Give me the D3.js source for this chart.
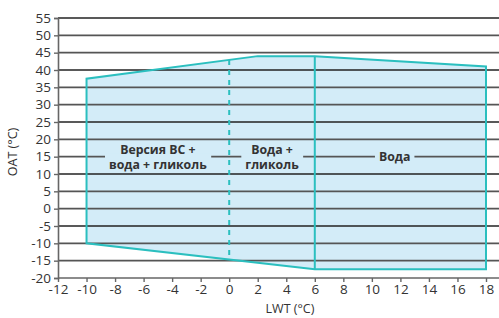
<!DOCTYPE html>
<html>
<head>
<meta charset="utf-8">
<script src="https://cdn.jsdelivr.net/npm/d3@7"></script>
<style>
  body { margin: 0; background: #fff; }
  svg { display: block; font-family: "Open Sans", sans-serif; }
</style>
</head>
<body>
<svg id="canvas" width="499" height="318"></svg>
<script>
// operating envelope (LWT, OAT)
let envelopeLWT = [-10, -10, 2, 6, 18, 18, 6, -10]
let envelopeOAT = [-10, 37.5, 44, 44, 41, -17.5, -17.5, -10]

// split lines
let glycolSplit = 0   // dashed
let waterSplit = 6    // solid

let xTicks = d3.range(-12, 19, 2)
let yTicks = d3.range(-20, 56, 5)

let zoneNames = [['Версия ВС +', 'вода + гликоль'], ['Вода +', 'гликоль'], ['Вода']]
let zoneLWT = [-5, 3, 11.6]
let zoneOAT = 15

let fillColor = '#d3ecf8'
let lineColor = '#2bbfbf'

let svg = d3.select('#canvas')

let x = d3.scaleLinear().domain([-12, 18]).range([58, 486])
let y = d3.scaleLinear().domain([-20, 55]).range([278, 18])
let rightEdge = 499

let points = envelopeLWT.map((v, i) => [x(v), y(envelopeOAT[i])])

// fill
svg.append('polygon')
   .attr('points', points.map(p => p.join(',')).join(' '))
   .attr('fill', fillColor)

// grid lines
svg.selectAll('.grid')
   .data(yTicks.filter(t => t > -20))
   .enter()
   .append('line')
   .attr('x1', x(-12))
   .attr('x2', rightEdge)
   .attr('y1', (t) => y(t))
   .attr('y2', (t) => y(t))
   .attr('stroke', (t, i) => (i % 3 === 2 ? '#222' : '#555'))
   .attr('stroke-width', 1.6)

// interpolate top/bottom boundaries at a given LWT
let topAt = (v) => {
    let tx = envelopeLWT.slice(1, 5), ty = envelopeOAT.slice(1, 5)
    return d3.scaleLinear().domain(tx).range(ty)(v)
}
let bottomAt = (v) => {
    return d3.scaleLinear().domain([-10, 6]).range([-10, -17.5]).clamp(true)(v)
}

// dashed split
svg.append('line')
   .attr('x1', x(glycolSplit)).attr('x2', x(glycolSplit))
   .attr('y1', y(topAt(glycolSplit))).attr('y2', y(bottomAt(glycolSplit)))
   .attr('stroke', lineColor)
   .attr('stroke-width', 2)
   .attr('stroke-dasharray', '5,5')

// solid split
svg.append('line')
   .attr('x1', x(waterSplit)).attr('x2', x(waterSplit))
   .attr('y1', y(topAt(waterSplit))).attr('y2', y(bottomAt(waterSplit)))
   .attr('stroke', lineColor)
   .attr('stroke-width', 2)

// zone labels with a patch hiding the grid line behind them
zoneNames.forEach((lines, i) => {
    let g = svg.append('g')
    let cx = x(zoneLWT[i])
    let cy = y(zoneOAT)
    let lh = 15
    let t = g.append('text')
             .attr('text-anchor', 'middle')
             .attr('font-size', 12.3)
             .attr('font-weight', 'bold')
             .attr('fill', '#333')
    lines.forEach((s, j) => {
        t.append('tspan')
         .attr('x', cx)
         .attr('y', cy + (j - (lines.length - 1) / 2) * lh + 4.5)
         .text(s)
    })
    let bb = t.node().getBBox()
    g.insert('rect', 'text')
     .attr('x', bb.x - 4)
     .attr('y', cy - 3)
     .attr('width', bb.width + 8)
     .attr('height', 6)
     .attr('fill', fillColor)
})

// outline
svg.append('polygon')
   .attr('points', points.map(p => p.join(',')).join(' '))
   .attr('fill', 'none')
   .attr('stroke', lineColor)
   .attr('stroke-width', 2)

// axes
let xAxis = svg.append('g')
               .attr('transform', 'translate(0,' + y(-20) + ')')
               .call(d3.axisBottom(x).tickValues(xTicks).tickSize(4).tickPadding(2))
xAxis.select('.domain').remove()
xAxis.append('line')
     .attr('x1', x(-12)).attr('x2', rightEdge)
     .attr('stroke', '#666').attr('stroke-width', 1.6)

let yAxis = svg.append('g')
               .attr('transform', 'translate(' + x(-12) + ',0)')
               .call(d3.axisLeft(y).tickValues(yTicks).tickSize(4).tickPadding(3))
yAxis.select('.domain').attr('stroke', '#666').attr('stroke-width', 1.6)

svg.selectAll('.tick line').attr('stroke', '#666').attr('stroke-width', 1.4)
svg.selectAll('.tick text')
   .attr('font-size', 13.5)
   .attr('fill', '#333')
   .attr('font-family', '"Open Sans", sans-serif')
   .text((d) => (d < 0 ? '-' + Math.abs(d) : d))

// axis titles
svg.append('text')
   .attr('x', 290).attr('y', 313)
   .attr('text-anchor', 'middle')
   .attr('font-size', 12.5)
   .attr('fill', '#333')
   .text('LWT (°C)')

svg.append('text')
   .attr('transform', 'translate(17,152) rotate(-90)')
   .attr('text-anchor', 'middle')
   .attr('font-size', 12.5)
   .attr('fill', '#333')
   .text('OAT (°C)')
</script>
</body>
</html>
